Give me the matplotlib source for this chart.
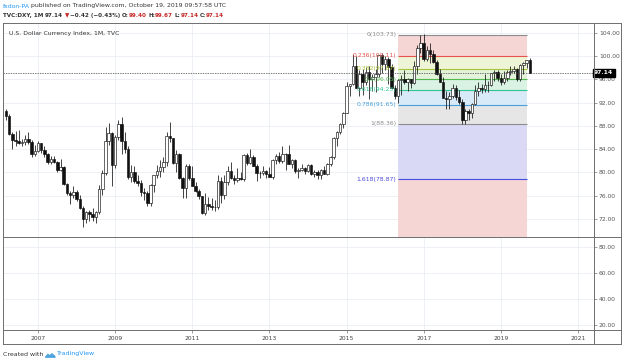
import numpy as np
import pandas as pd
import matplotlib
matplotlib.use('Agg')
import matplotlib.pyplot as plt
from matplotlib.patches import Polygon
from matplotlib.lines import Line2D

# ----------------------------------------------------------------------------
# DXY monthly candles, Mar 2006 .. Oct 2019
# ----------------------------------------------------------------------------
first_month = '2006-03'
first_open = 90.6

closes = [
    89.8, 86.6, 85.6, 85.4, 85.1, 85.2, 85.8, 85.3, 83.2, 83.7,                 # 2006
    85.0, 83.8, 83.2, 81.8, 82.4, 81.8, 80.4, 80.9, 78.0, 76.4, 76.1, 76.7,     # 2007
    75.5, 73.9, 72.0, 73.2, 72.8, 72.4, 73.2, 77.2, 79.9, 85.4, 86.8, 81.3,     # 2008
    86.1, 88.4, 85.4, 84.1, 79.2, 80.1, 78.5, 78.2, 76.7, 76.4, 74.8, 77.9,     # 2009
    79.5, 80.3, 81.0, 81.8, 86.3, 85.9, 81.7, 83.1, 79.0, 77.4, 81.1, 79.0,     # 2010
    77.7, 76.9, 75.9, 73.0, 74.6, 74.3, 74.1, 74.1, 78.6, 76.1, 78.4, 80.2,     # 2011
    79.0, 78.7, 79.0, 78.8, 83.0, 81.6, 82.6, 81.2, 79.9, 79.9, 80.2, 79.8,     # 2012
    79.3, 82.1, 82.9, 81.9, 83.2, 83.1, 81.5, 82.1, 80.2, 80.4, 80.7, 80.2,     # 2013
    81.3, 79.8, 80.1, 79.5, 80.4, 79.8, 81.5, 82.7, 86.0, 87.0, 88.4, 90.3,     # 2014
    94.8, 95.3, 98.4, 94.6, 96.9, 95.5, 97.3, 96.0, 96.4, 96.9, 100.2, 98.6,    # 2015
    99.6, 98.2, 94.6, 93.1, 95.9, 96.1, 95.5, 96.0, 95.4, 98.4, 101.5, 102.2,   # 2016
    99.5, 101.1, 100.4, 99.0, 97.0, 95.6, 92.9, 92.7, 93.1, 94.6, 93.0, 92.1,   # 2017
    89.1, 90.6, 90.2, 91.8, 94.0, 94.5, 94.4, 95.1, 95.1, 97.1, 97.3, 96.2,     # 2018
    95.6, 96.2, 97.3, 97.5, 97.8, 96.1, 98.5, 98.9, 99.4, 97.14,                # 2019
]
highs = [
    91.0, 90.0, 87.0, 87.2, 87.3, 85.8, 86.4, 86.9, 85.6, 84.7,
    85.5, 85.1, 84.5, 83.3, 82.8, 82.9, 81.9, 82.3, 81.2, 78.2, 76.9, 77.6,
    77.0, 76.1, 74.2, 73.4, 73.6, 73.9, 73.3, 77.8, 80.4, 87.9, 88.5, 87.0,
    86.4, 89.1, 89.6, 86.9, 84.5, 81.3, 81.1, 79.5, 78.7, 77.4, 76.9, 78.1,
    79.5, 81.3, 82.2, 82.7, 87.0, 88.7, 86.0, 83.8, 83.3, 79.2, 81.5, 81.4,
    81.2, 78.3, 77.2, 76.0, 76.4, 75.7, 75.6, 75.2, 79.5, 79.2, 79.6, 81.2,
    81.8, 79.6, 80.7, 80.0, 83.1, 83.4, 84.1, 83.0, 81.4, 80.3, 81.2, 80.4,
    80.9, 82.3, 83.2, 83.6, 84.5, 83.4, 84.8, 82.4, 82.3, 80.7, 81.5, 81.0,
    81.5, 81.4, 80.4, 80.4, 80.6, 81.1, 81.6, 82.8, 86.1, 87.1, 88.5, 90.4,
    95.5, 95.3, 100.4, 100.1, 97.7, 97.8, 98.1, 98.3, 96.9, 97.8, 100.3, 100.5,
    100.0, 99.8, 98.6, 95.1, 96.1, 96.7, 97.6, 96.3, 96.1, 99.1, 102.0, 103.6,
    103.8, 101.8, 102.3, 101.0, 99.4, 97.8, 96.4, 94.1, 93.8, 95.2, 95.1, 94.2,
    92.6, 90.9, 90.9, 91.9, 95.0, 95.5, 95.2, 96.9, 95.7, 97.2, 97.7, 97.7,
    96.9, 97.4, 97.7, 98.3, 98.4, 98.0, 98.7, 99.0, 99.4, 99.67,
]
lows = [
    89.1, 86.5, 84.0, 84.6, 84.9, 84.5, 84.7, 84.9, 82.6, 82.8,
    83.5, 83.3, 82.6, 81.5, 81.5, 81.7, 80.0, 80.2, 77.9, 76.2, 74.5, 75.6,
    75.1, 73.7, 70.7, 71.3, 71.6, 71.7, 71.3, 72.9, 76.2, 79.6, 84.7, 77.7,
    80.8, 85.6, 83.1, 83.3, 78.8, 78.3, 78.2, 77.7, 76.0, 75.2, 74.2, 74.2,
    76.6, 79.1, 79.3, 80.1, 81.2, 85.2, 81.4, 80.1, 78.9, 75.6, 75.6, 78.7,
    77.6, 76.7, 75.5, 72.9, 72.7, 73.5, 73.5, 73.4, 73.8, 74.8, 75.4, 77.8,
    78.9, 78.1, 78.4, 78.7, 78.6, 81.3, 81.4, 81.1, 78.6, 79.1, 79.6, 79.0,
    79.2, 78.9, 81.5, 81.6, 81.6, 80.5, 81.4, 80.8, 79.9, 79.0, 80.2, 79.7,
    80.0, 79.6, 79.2, 78.9, 78.9, 79.7, 79.6, 81.1, 82.4, 84.5, 86.6, 87.6,
    90.2, 93.2, 95.1, 94.5, 93.1, 93.3, 95.0, 92.6, 94.1, 93.8, 96.5, 97.2,
    97.7, 95.3, 94.5, 92.6, 91.9, 93.4, 95.2, 94.0, 94.5, 95.2, 96.9, 100.5,
    99.2, 99.2, 98.9, 98.8, 96.8, 95.5, 92.8, 91.0, 91.0, 92.8, 92.5, 91.7,
    88.4, 88.36, 89.0, 89.3, 91.6, 93.2, 93.7, 93.8, 93.8, 94.8, 95.7, 95.8,
    95.0, 95.2, 95.7, 96.7, 97.1, 95.8, 95.8, 97.0, 98.0, 97.14,
]

# fib retracement drawn on the chart
fib_ratios = [0, 0.236, 0.382, 0.5, 0.618, 0.786, 1, 1.618, 2.618]
fib_prices = [103.73, 100.11, 97.87, 96.05, 94.23, 91.65, 88.36, 78.87, 63.49]
fib_lines = ['#8c8c8c', '#e5534b', '#a7c43c', '#55b84f', '#2ec48d', '#4a9fd8', '#8c8c8c', '#4b4be0', '#e5534b']
fib_fills = ['#f6d5d5', '#eef4d6', '#e2f3d9', '#d9f2e4', '#d8eaf7', '#e6e6e6', '#d9d9f6', '#f6d5d5']
fib_start, fib_end = '2016-05-01', '2019-09-05'

last_price = 97.14
price_ticks = [72, 76, 80, 84, 88, 92, 96, 100, 104]
lower_ticks = [20, 40, 60, 80]
year_ticks = [2007, 2009, 2011, 2013, 2015, 2017, 2019, 2021]

# ----------------------------------------------------------------------------
W, H = 625, 364
months = pd.period_range(first_month, periods=len(closes), freq='M')
xs = np.array([m.year + (m.month - 1) / 12 for m in months])
closes = np.array(closes)
opens = np.concatenate([[first_open], closes[:-1]])
highs = np.array(highs)
lows = np.array(lows)


def dec_year(s):
    t = pd.Timestamp(s)
    return t.year + (t.dayofyear - 1) / 365.25


def fx(x):
    return x / W


def fy(y):
    return 1 - y / H


plt.rcParams['font.family'] = ['DejaVu Sans']
fig = plt.figure(figsize=(6.25, 3.64), dpi=100)
fig.patch.set_facecolor('white')

ax = fig.add_axes([fx(3), fy(237), (594 - 3) / W, (237 - 23) / H])
ax2 = fig.add_axes([fx(3), fy(330), (594 - 3) / W, (330 - 237) / H])

px_per_year = 38.57
x_left = 2007 - 35 / px_per_year
x_right = 2021 + 16 / px_per_year
for a in (ax, ax2):
    a.set_xlim(x_left, x_right)
    for s in a.spines.values():
        s.set_visible(False)
    a.set_facecolor('white')

ppu = 5.8125
ax.set_ylim(72 - 18 / ppu, 104 + 10 / ppu)
ax2.set_ylim(20 - 5 / 1.3, 80 + 10 / 1.3)

grid_c = '#eaeef4'
for a in (ax, ax2):
    for yr in year_ticks:
        a.axvline(yr, color=grid_c, lw=0.6, zorder=0)
for p in price_ticks:
    ax.axhline(p, color=grid_c, lw=0.6, zorder=0)
for p in lower_ticks:
    ax2.axhline(p, color=grid_c, lw=0.6, zorder=0)

# fib retracement
x0, x1 = dec_year(fib_start), dec_year(fib_end)
for i in range(len(fib_fills)):
    ax.fill_between([x0, x1], fib_prices[i], fib_prices[i + 1], color=fib_fills[i], lw=0, zorder=1)
for i in range(len(fib_ratios) - 1):
    ax.hlines(fib_prices[i], x0, x1, color=fib_lines[i], lw=0.8, zorder=2)
    ax.text(x0 - 0.04, fib_prices[i], f'{fib_ratios[i]:g}({fib_prices[i]:.2f})',
            ha='right', va='center', fontsize=4.4, color=fib_lines[i], zorder=6)

# candles
up = closes >= opens
ax.vlines(xs, lows, highs, color='#111111', lw=0.55, zorder=3)
bw = 0.066
ax.bar(xs[up], (closes - opens)[up], bottom=opens[up], width=bw,
       facecolor='white', edgecolor='#111111', lw=0.45, zorder=4)
ax.bar(xs[~up], (opens - closes)[~up], bottom=closes[~up], width=bw,
       facecolor='#111111', edgecolor='#111111', lw=0.45, zorder=4)

# last price line
ax.axhline(last_price, color='#444444', lw=0.5, ls=(0, (2, 1.5)), zorder=5)

# price axis
ax.yaxis.tick_right()
ax.set_yticks(price_ticks)
ax.set_yticklabels([f'{p:.2f}' for p in price_ticks])
ax.tick_params(axis='y', length=2, width=0.5, color='#777777', labelsize=4.3,
               labelcolor='#555555', pad=1.5)
ax.tick_params(axis='x', length=0, labelbottom=False)
ax.set_xticks(year_ticks)
ax.text(1.0, last_price, f'{last_price:.2f}', transform=ax.get_yaxis_transform(),
        ha='left', va='center', fontsize=4.3, color='white', fontweight='bold',
        bbox=dict(boxstyle='square,pad=0.25', fc='black', ec='black'), zorder=10,
        clip_on=False)

ax2.yaxis.tick_right()
ax2.set_yticks(lower_ticks)
ax2.set_yticklabels([f'{p:.2f}' for p in lower_ticks])
ax2.tick_params(axis='y', length=2, width=0.5, color='#777777', labelsize=4.3,
                labelcolor='#555555', pad=1.5)
ax2.set_xticks(year_ticks)
ax2.set_xticklabels([str(y) for y in year_ticks])
ax2.tick_params(axis='x', length=2, width=0.5, color='#777777', labelsize=4.3,
                labelcolor='#444444', pad=2.5)

# frame lines
line_c = '#6e6e6e'
for (xa, ya, xb, yb) in [(3, 23, 621, 23), (3, 344, 621, 344), (3, 23, 3, 344),
                         (621, 23, 621, 344), (594, 23, 594, 344),
                         (3, 237, 621, 237), (3, 330, 621, 330)]:
    fig.add_artist(Line2D([fx(xa), fx(xb)], [fy(ya), fy(yb)], color=line_c, lw=0.7))

# texts
fig.text(fx(9), fy(33), 'U.S. Dollar Currency Index, 1M, TVC', fontsize=4.45,
         color='#333333', ha='left', va='center')

renderer = fig.canvas.get_renderer()


def draw_runs(x, y, runs, **kw):
    for s, c, gap in runs:
        t = fig.text(fx(x), fy(y), s, color=c, ha='left', va='center', **kw)
        x += t.get_window_extent(renderer).width + gap
    return x


blue = '#2196f3'
red = '#c62828'
dark = '#333333'
draw_runs(3, 6, [('fxdon-PA', blue, 1.3),
                 ('published on TradingView.com, October 19, 2019 09:57:58 UTC', dark, 0)],
          fontsize=4.4)
draw_runs(3, 15.5, [('TVC:DXY, 1M', dark, 1.8), ('97.14', dark, 1.5),
                    ('▼', red, 1), ('−0.42 (−0.43%)', dark, 1.8),
                    ('O:', dark, 0), ('99.40', red, 1.5),
                    ('H:', dark, 0), ('99.67', red, 1.5),
                    ('L:', dark, 0), ('97.14', red, 1.5),
                    ('C:', dark, 0), ('97.14', red, 0)],
          fontsize=4.1, fontweight='bold')

xe = draw_runs(3, 354, [('Created with', dark, 2)], fontsize=4.5)
logo = [(0, 3), (2.5, 0), (4.5, 1.5), (6.5, -0.5), (9.5, 2), (10, 3.5), (0, 3.5)]
fig.add_artist(Polygon([(fx(xe + a), fy(354 + b)) for a, b in logo], closed=True,
                       fc='#4aa3df', ec='#4aa3df', lw=0.5))
draw_runs(xe + 12, 354, [('TradingView', blue, 0)], fontsize=4.5)

fig.savefig('out.png', dpi=100, facecolor='white')
